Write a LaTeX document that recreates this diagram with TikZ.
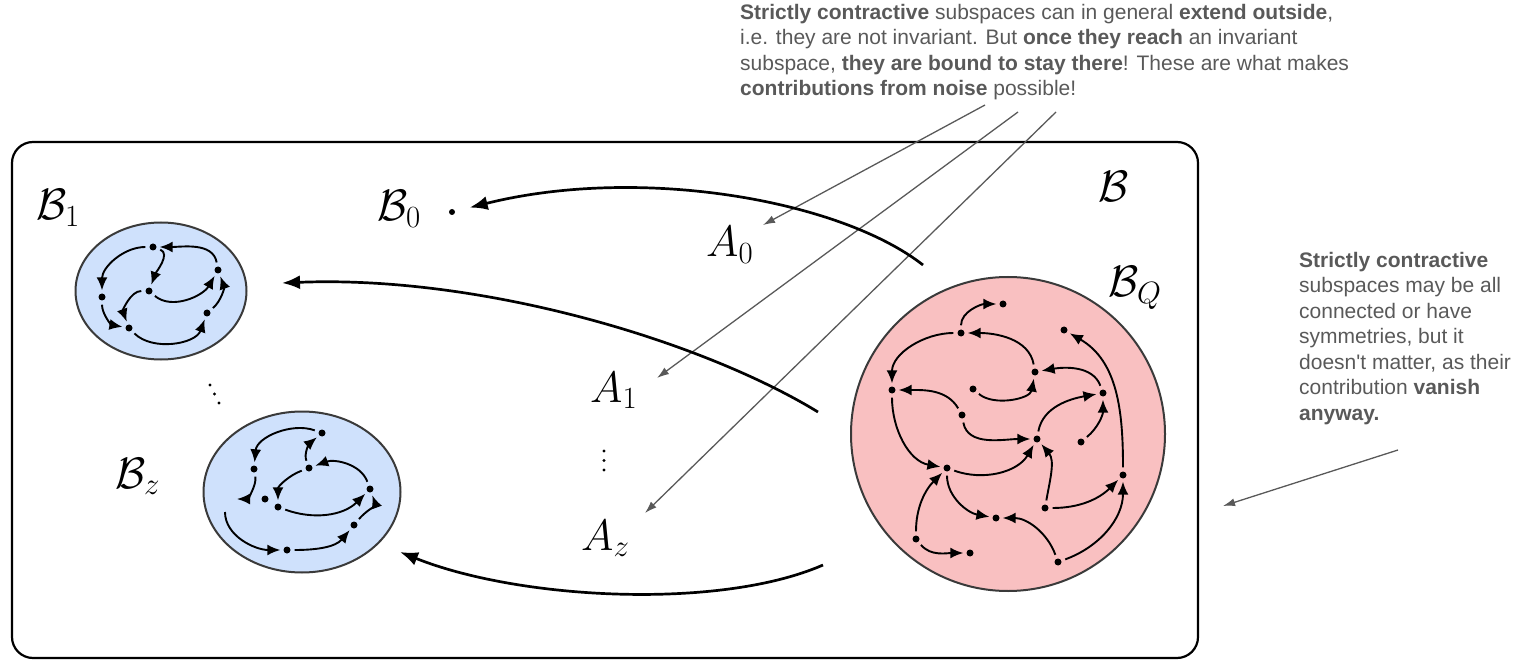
\RequirePackage{fix-cm}
\documentclass[tikz,border=0pt]{standalone}
\usepackage{amsmath,amssymb}
\usepackage{fontspec}
\setmainfont{Liberation Sans}
\usetikzlibrary{arrows.meta,shapes.geometric}

\definecolor{notegray}{RGB}{89,89,89}
\definecolor{rimgray}{RGB}{58,58,58}
\definecolor{subblue}{RGB}{207,225,252}
\definecolor{subpink}{RGB}{249,192,193}

\begin{document}
\begin{tikzpicture}[x=1pt,y=-1pt,
    vtx/.style={circle,fill=black,inner sep=0pt,minimum size=7pt},
    hop/.style={line width=1.9pt,-{Latex[length=13pt,width=11pt]},shorten <=4pt,shorten >=3pt},
    leap/.style={line width=2.7pt,-{Latex[length=18pt,width=14pt]}},
    hint/.style={notegray,line width=1.3pt,-{Latex[length=12pt,width=8pt]}},
    blob/.style={draw=rimgray,line width=2pt,inner sep=0pt},
    setlbl/.style={font=\fontsize{44}{50}\selectfont,inner sep=0pt,anchor=base west},
    notes/.style={notegray,font=\fontsize{21}{25.5}\selectfont,align=left,inner sep=0pt,anchor=north west}]
    \useasboundingbox (0,0) rectangle (1526,660);

    % the whole space
    \draw[line width=2.2pt,rounded corners=21pt] (12,142) rectangle (1198,658);

    % subspaces
    \node[blob,ellipse,fill=subblue,minimum width=171pt,minimum height=137pt] (bone) at (161,291) {};
    \node[blob,ellipse,fill=subblue,minimum width=197pt,minimum height=161pt] (bz) at (302,492) {};
    \node[blob,circle,fill=subpink,minimum size=314pt] (bq) at (1008,434) {};

    % labels
    \node[setlbl] (lbig) at (1098,202) {$\mathcal{B}$};
    \node[setlbl] (lq) at (1108,297) {$\mathcal{B}_Q$};
    \node[setlbl] (lone) at (36,220) {$\mathcal{B}_1$};
    \node[setlbl] (lzero) at (377,221) {$\mathcal{B}_0$};
    \node[setlbl] (lz) at (115,488) {$\mathcal{B}_z$};
    \node[setlbl] (azero) at (706,257) {$A_0$};
    \node[setlbl] (aone) at (590,402) {$A_1$};
    \node[setlbl] (az) at (581,550) {$A_z$};
    \node[vtx,minimum size=6pt] (bzerodot) at (452,212) {};

    % dots between the labels
    \foreach \k in {0,1,2}
        \fill (604,451+9.5*\k) circle (1.7pt);
    \foreach \k in {0,1,2}
        \fill (210+4.5*\k,385+9*\k) circle (1.7pt);

    % B_1
    \node[vtx] (p1) at (153,247) {};
    \node[vtx] (p2) at (218,270) {};
    \node[vtx] (p3) at (102,297) {};
    \node[vtx] (p4) at (149,291) {};
    \node[vtx] (p5) at (129,328) {};
    \node[vtx] (p6) at (207,313) {};
    \draw[hop] (p1) to[out=180,in=90] (p3);
    \draw[hop] (p2) to[out=100,in=0] (p1);
    \draw[hop] (p1) to[out=-20,in=70] (p4);
    \draw[hop] (p4) to[out=180,in=110] (p5);
    \draw[hop] (p3) to[out=270,in=170] (p5);
    \draw[hop] (p4) to[out=-40,in=240] (p2);
    \draw[hop] (p6) to[out=40,in=-70] (p2);
    \draw[hop] (p5) to[out=-45,in=250] (p6);

    % B_z
    \node[vtx] (r1) at (322,433) {};
    \node[vtx] (r2) at (254,469) {};
    \node[vtx] (r3) at (309,468) {};
    \node[vtx] (r4) at (265,499) {};
    \node[vtx] (r5) at (278,507) {};
    \node[vtx] (r6) at (370,489) {};
    \node[vtx] (r7) at (354,525) {};
    \node[vtx] (r8) at (287,550) {};
    \coordinate (r2end) at (234,499);
    \coordinate (r0) at (225,508);
    \draw[hop] (r1) to[out=160,in=85] (r2);
    \draw[hop] (r3) to[out=110,in=220] (r1);
    \draw[hop] (r6) to[out=110,in=20] (r3);
    \draw[hop] (r3) to[out=200,in=90] (r5);
    \draw[hop] (r2) to[out=-80,in=0] (r2end);
    \draw[hop] (r5) to[out=-20,in=225] (r6);
    \draw[hop] (r7) to[out=50,in=-70] (r6);
    \draw[hop] (r0) to[out=-90,in=180] (r8);
    \draw[hop] (r8) to[out=0,in=230] (r7);

    % B_Q
    \node[vtx] (q1) at (1003,304) {};
    \node[vtx] (q2) at (961,333) {};
    \node[vtx] (q3) at (1064,330) {};
    \node[vtx] (q4) at (1035,372) {};
    \node[vtx] (q5) at (892,390) {};
    \node[vtx] (q6) at (973,389) {};
    \node[vtx] (q7) at (1103,393) {};
    \node[vtx] (q8) at (962,415) {};
    \node[vtx] (q9) at (1037,439) {};
    \node[vtx] (q10) at (1081,442) {};
    \node[vtx] (q11) at (947,468) {};
    \node[vtx] (q12) at (1123,475) {};
    \node[vtx] (q13) at (1045,508) {};
    \node[vtx] (q14) at (996,518) {};
    \node[vtx] (q15) at (916,539) {};
    \node[vtx] (q16) at (970,553) {};
    \node[vtx] (q17) at (1058,562) {};
    \draw[hop] (q2) to[out=90,in=180] (q1);
    \draw[hop] (q4) to[out=100,in=0] (q2);
    \draw[hop] (q2) to[out=180,in=90] (q5);
    \draw[hop] (q8) to[out=120,in=0] (q5);
    \draw[hop] (q6) to[out=-40,in=260] (q4);
    \draw[hop] (q7) to[out=110,in=10] (q4);
    \draw[hop] (q12) to[out=90,in=-30] (q3);
    \draw[hop] (q5) to[out=270,in=170] (q11);
    \draw[hop] (q8) to[out=280,in=180] (q9);
    \draw[hop] (q9) to[out=80,in=190] (q7);
    \draw[hop] (q10) to[out=40,in=270] (q7);
    \draw[hop] (q11) to[out=-20,in=240] (q9);
    \draw[hop] (q13) to[out=80,in=-50] (q9);
    \draw[hop] (q11) to[out=270,in=170] (q14);
    \draw[hop] (q17) to[out=110,in=0] (q14);
    \draw[hop] (q15) to[out=90,in=225] (q11);
    \draw[hop] (q15) to[out=-50,in=180] (q16);
    \draw[hop] (q13) to[out=0,in=225] (q12);
    \draw[hop] (q17) to[out=20,in=270] (q12);

    % notes
    \node[notes] (topnote) at (740,4) {\textbf{Strictly contractive} subspaces can in general \textbf{extend outside},\\
        i.e. they are not invariant. But \textbf{once they reach} an invariant\\
        subspace, \textbf{they are bound to stay there}! These are what makes\\
        \textbf{contributions from noise} possible!};
    \node[notes] (sidenote) at (1299,252) {\textbf{Strictly contractive}\\
        subspaces may be all\\
        connected or have\\
        symmetries, but it\\
        doesn\textquotesingle t matter, as their\\
        contribution \textbf{vanish}\\
        \textbf{anyway.}};

    % pointers from the notes
    \coordinate (t0) at (985,105);
    \coordinate (h0) at (763,225);
    \coordinate (t1) at (1018,112);
    \coordinate (h1) at (657,378);
    \coordinate (tz) at (1056,112);
    \coordinate (hz) at (645,513);
    \coordinate (tq) at (1398,450);
    \coordinate (hq) at (1223,506);
    \draw[hint] (t0) -- (h0);
    \draw[hint] (t1) -- (h1);
    \draw[hint] (tz) -- (hz);
    \draw[hint] (tq) -- (hq);

    % maps out of B_Q
    \coordinate (from0) at (923,265);
    \coordinate (from1) at (818,412);
    \coordinate (tobone) at (282,283);
    \coordinate (fromz) at (823,565);
    \coordinate (tobz) at (400,552);
    \draw[leap,shorten >=15pt] (from0) .. controls (840,200) and (640,165) .. (bzerodot);
    \draw[leap] (from1) .. controls (700,340) and (480,275) .. (tobone);
    \draw[leap] (fromz) .. controls (720,610) and (520,600) .. (tobz);
\end{tikzpicture}
\end{document}
